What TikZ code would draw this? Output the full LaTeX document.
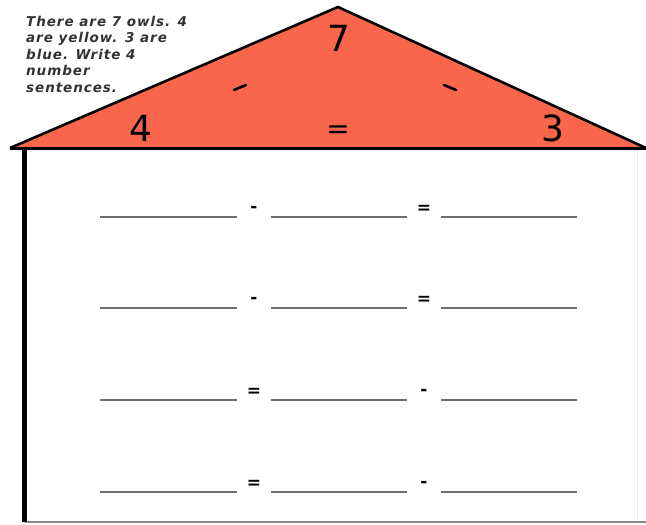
\documentclass[tikz,border=0pt]{standalone}
\usepackage{fontspec}
\setmainfont{DejaVu Sans}
\newfontfamily\handfont{DejaVu Sans}[LetterSpace=7]
\newfontfamily\numfont{DejaVu Sans}
\definecolor{roofred}{RGB}{250,102,76}
\definecolor{blankgray}{RGB}{110,110,110}
\definecolor{faintgray}{RGB}{232,232,232}
\begin{document}
\begin{tikzpicture}[x=1pt,y=-1pt,
  blank/.style={draw=blankgray,line width=1.6pt},
  opsign/.style={font=\numfont\fontsize{17}{17}\selectfont\bfseries,inner sep=0pt},
  roofnum/.style={font=\numfont\fontsize{36}{36}\selectfont,inner sep=0pt},
  roofop/.style={font=\numfont\fontsize{28}{28}\selectfont,inner sep=0pt},
  roofdash/.style={line width=2.6pt,line cap=round},
  note/.style={font=\handfont\bfseries\itshape\fontsize{13.5}{16.5}\selectfont,text=black!80,align=left,inner sep=0pt,anchor=north west}]
\useasboundingbox (0,0) rectangle (646,525);
\fill[white] (0,0) rectangle (646,525);
% roof
\coordinate (apex) at (338,7);
\coordinate (bl) at (10,148);
\coordinate (br) at (646,148);
\fill[roofred] (bl) -- (apex) -- (br) -- cycle;
\draw[line width=2.6pt,line join=miter] (bl) -- (apex) -- (br);
\draw[line width=3pt] (bl) -- (br);
% house body
\coordinate (wt) at (24.5,148);
\coordinate (wb) at (24.5,522);
\coordinate (bbr) at (646,522);
\coordinate (rt) at (637,150);
\coordinate (rb) at (637,521);
\draw[faintgray,line width=1pt] (rt) -- (rb);
\draw[blankgray!80,line width=1.5pt] (wb) -- (bbr);
\draw[line width=4.5pt] (wt) -- (wb);
% roof labels
\node[roofnum] (n7) at (339,38) {7};
\node[roofnum] (n4) at (141,128) {4};
\node[roofnum] (n3) at (553,128) {3};
\node[roofop] (eqr) at (338,132) {=};
\coordinate (ml1) at (234,90); \coordinate (ml2) at (246,85);
\coordinate (mr1) at (444,85); \coordinate (mr2) at (456,90);
\draw[roofdash] (ml1) -- (ml2);
\draw[roofdash] (mr1) -- (mr2);
% instruction text
\node[note] (txt) at (26,16) {There are 7 owls. 4\\are yellow. 3 are\\blue. Write 4\\number\\sentences.};
% rows
\foreach \y/\a/\b [count=\i] in {217/-/=, 308/-/=, 400/=/-, 492/=/-}{
  \coordinate (r\i a1) at (100,\y); \coordinate (r\i a2) at (237,\y);
  \coordinate (r\i b1) at (271,\y); \coordinate (r\i b2) at (407,\y);
  \coordinate (r\i c1) at (441,\y); \coordinate (r\i c2) at (577,\y);
  \draw[blank] (r\i a1) -- (r\i a2);
  \draw[blank] (r\i b1) -- (r\i b2);
  \draw[blank] (r\i c1) -- (r\i c2);
  \node[opsign] (o\i a) at (254,\y-8) {\a};
  \node[opsign] (o\i b) at (424,\y-8) {\b};
}
\end{tikzpicture}
\end{document}
